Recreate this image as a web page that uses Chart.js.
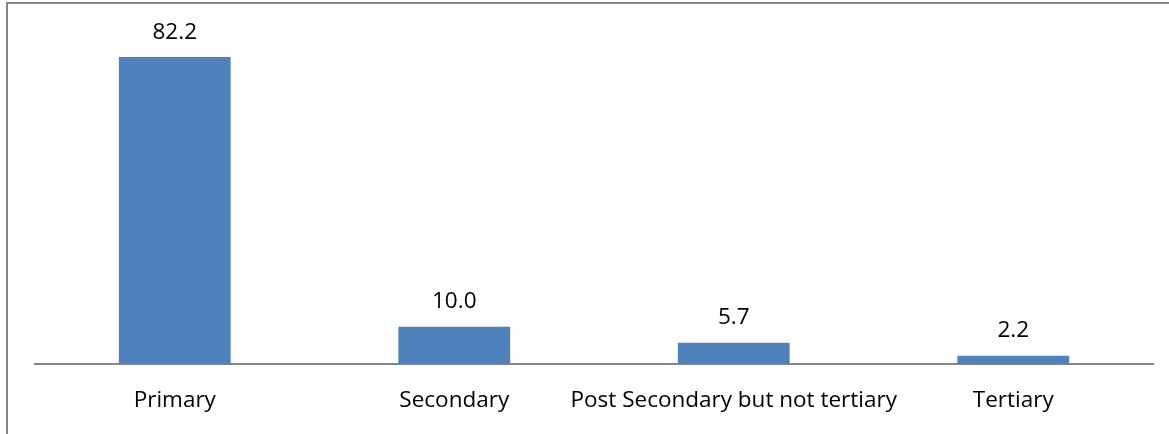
<!DOCTYPE html>
<html>
<head>
<meta charset="utf-8">
<script src="https://cdn.jsdelivr.net/npm/chart.js@4.4.1/dist/chart.umd.min.js"></script>
<style>
  html, body { margin: 0; padding: 0; background: #ffffff; }
  #wrap { position: relative; width: 1169px; height: 434px; overflow: hidden; }
</style>
</head>
<body>
<div id="wrap"><canvas id="eduChart" width="1169" height="437"></canvas></div>
<script>
// --- Data ---
const categories = ['Primary', 'Secondary', 'Post Secondary but not tertiary', 'Tertiary'];
const shares = [82.2, 10.0, 5.7, 2.2];
const yMin = 0;
const yMax = 90;

const barColor = '#4F81BD';
const axisColor = '#868686';
const fontFamily = "'Open Sans', 'DejaVu Sans', sans-serif";

// Frame lines (top + left) like the cropped document box
const framePlugin = {
    id: 'frame',
    beforeDraw(chart) {
        const ctx = chart.ctx;
        ctx.save();
        ctx.strokeStyle = axisColor;
        ctx.lineWidth = 2;
        ctx.beginPath();
        ctx.moveTo(7, chart.height);
        ctx.lineTo(7, 3);
        ctx.lineTo(chart.width, 3);
        ctx.stroke();
        ctx.restore();
    }
};

// Value labels above each bar
const valueLabels = {
    id: 'valueLabels',
    afterDatasetsDraw(chart) {
        const ctx = chart.ctx;
        const meta = chart.getDatasetMeta(0);
        ctx.save();
        ctx.fillStyle = '#000000';
        ctx.font = '22.5px ' + fontFamily;
        ctx.textAlign = 'center';
        ctx.textBaseline = 'middle';
        meta.data.forEach((bar, i) => {
            ctx.fillText(shares[i].toFixed(1), bar.x, bar.y - 25);
        });
        ctx.restore();
    }
};

try {
    new Chart(document.getElementById('eduChart'), {
        type: 'bar',
        data: {
            labels: categories,
            datasets: [{
                data: shares,
                backgroundColor: barColor,
                borderWidth: 0,
                barPercentage: 0.4,
                categoryPercentage: 1.0
            }]
        },
        options: {
            responsive: false,
            animation: false,
            layout: { padding: { left: 35, right: 16, top: 28, bottom: 0 } },
            plugins: {
                legend: { display: false },
                tooltip: { enabled: false }
            },
            scales: {
                x: {
                    grid: { display: false, drawTicks: false },
                    border: { display: true, color: axisColor, width: 2 },
                    ticks: {
                        color: '#000000',
                        padding: 23,
                        maxRotation: 0,
                        autoSkip: false,
                        font: { family: fontFamily, size: 22.5 }
                    }
                },
                y: {
                    display: false,
                    min: yMin,
                    max: yMax
                }
            }
        },
        plugins: [framePlugin, valueLabels]
    });
} catch (error) {
    console.error("Chart Rendering Error:", error);
}
</script>
</body>
</html>
